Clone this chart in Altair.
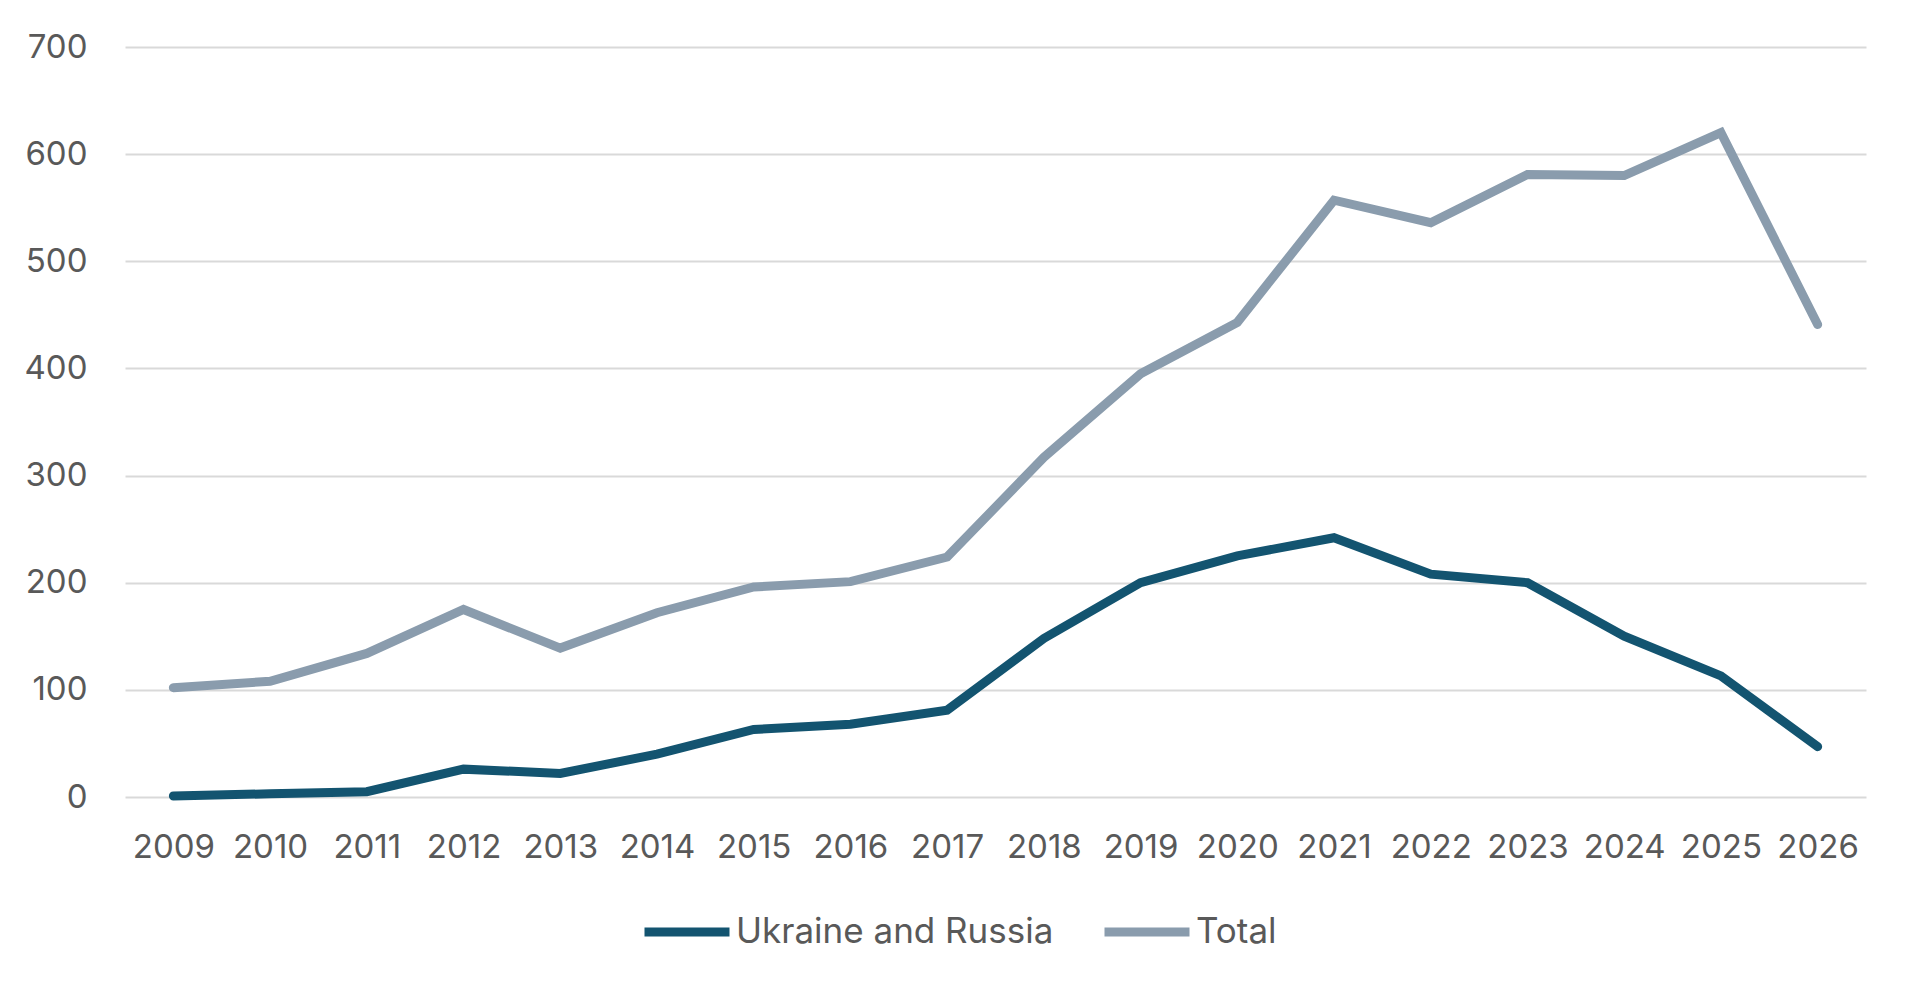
import altair as alt
import pandas as pd

years = [str(y) for y in range(2009, 2027)]
ukraine_russia = [1, 3, 5, 26, 22, 40, 63, 68, 81, 148, 200, 225, 242, 208, 200, 150, 113, 47]
total = [102, 108, 134, 175, 139, 172, 196, 201, 224, 317, 395, 443, 557, 536, 581, 580, 620, 441]
series = ["Ukraine and Russia", "Total"]
colors = ["#135470", "#8A9CAD"]
y_ticks = [0, 100, 200, 300, 400, 500, 600, 700]

rows = []
for i, yr in enumerate(years):
    rows.append({"year": yr, "series": series[0], "value": ukraine_russia[i]})
    rows.append({"year": yr, "series": series[1], "value": total[i]})
df = pd.DataFrame(rows)

FONT = "Inter"
TXT = "#595959"

chart = alt.Chart(df).mark_line(strokeWidth=9, strokeCap="round").encode(
    x=alt.X("year:O", scale=alt.Scale(type="point", padding=0.5),
            axis=alt.Axis(title=None, labelAngle=0, grid=False, domain=False, ticks=False,
                          labelPadding=34, labelFontSize=33, labelFont=FONT, labelColor=TXT)),
    y=alt.Y("value:Q", scale=alt.Scale(domain=[0, 700], nice=False),
            axis=alt.Axis(title=None, values=y_ticks, grid=True, gridColor="#D9D9D9", gridWidth=2,
                          domain=False, ticks=False, labelPadding=38, labelFontSize=33,
                          labelFont=FONT, labelColor=TXT)),
    color=alt.Color("series:N", scale=alt.Scale(domain=series, range=colors),
                    sort=series,
                    legend=alt.Legend(title=None, orient="none", direction="horizontal",
                                      legendX=515, legendY=838, symbolType="stroke",
                                      symbolSize=7225, symbolStrokeWidth=9, labelOffset=2,
                                      columnPadding=32, labelFontSize=35, labelFont=FONT,
                                      labelColor=TXT, labelLimit=0)),
    order=alt.Order("year:O"),
).properties(
    width=1741, height=750,
    padding={"left": 117, "top": 39, "right": 20, "bottom": 190},
    autosize=alt.AutoSizeParams(type="none"),
    background="white",
).configure_view(stroke=None)

chart.save("out.html", embed_options={"renderer": "svg", "actions": False})
